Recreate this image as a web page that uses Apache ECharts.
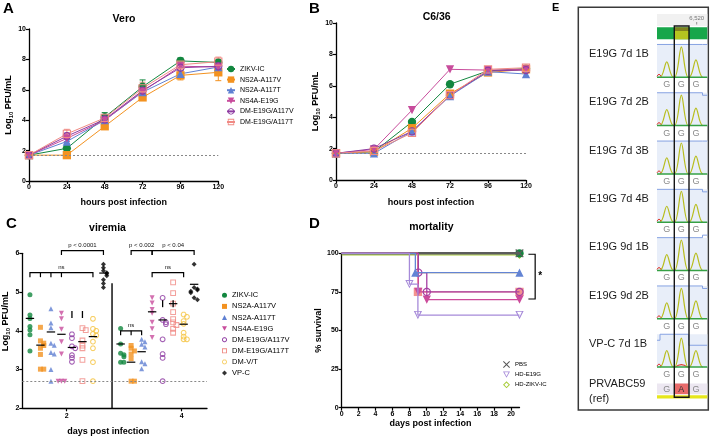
<!DOCTYPE html>
<html>
<head>
<meta charset="utf-8">
<title>ZIKV figure</title>
<script src="https://cdn.jsdelivr.net/npm/echarts@6/dist/echarts.min.js"></script>
<style>
html,body{margin:0;padding:0;background:#ffffff;}
#chart{width:712px;height:436px;}
</style>
</head>
<body>
<div id="chart"></div>
<script>
// ================= DATA =================
// Panels A / B : growth curves (log10 PFU/mL)
const hoursPostInfection = [0, 24, 48, 72, 96, 120];
const growthStrains = ['ZIKV-IC', 'NS2A-A117V', 'NS2A-A117T', 'NS4A-E19G', 'DM-E19G/A117V', 'DM-E19G/A117T'];
const veroZIKVIC = [1.7, 2.15, 4.2, 6.2, 7.9, 7.8];
const veroA117V  = [1.7, 1.7, 3.6, 5.5, 6.95, 7.15];
const veroA117T  = [1.7, 2.6, 4.0, 5.85, 7.05, 7.5];
const veroE19G   = [1.7, 2.8, 4.0, 5.9, 7.55, 7.5];
const veroDMV    = [1.7, 2.95, 4.05, 5.95, 7.45, 7.55];
const veroDMT    = [1.7, 3.1, 4.15, 6.1, 7.65, 7.85];
const veroSdZIKVIC = [0, 0.2, 0.3, 0.45, 0.2, 0.1];
const veroSdA117V  = [0, 0.05, 0.1, 0.2, 0.3, 0.55];
const veroSdA117T  = [0, 0.15, 0.25, 0.3, 0.2, 0.3];
const veroSdE19G   = [0, 0.2, 0.2, 0.3, 0.5, 0.3];
const veroSdDMV    = [0, 0.2, 0.2, 0.3, 0.3, 0.3];
const veroSdDMT    = [0, 0.3, 0.2, 0.4, 0.3, 0.3];
const c636ZIKVIC = [1.7, 1.8, 3.7, 6.1, 6.95, 7.1];
const c636A117V  = [1.7, 1.8, 3.3, 5.5, 6.85, 7.05];
const c636A117T  = [1.7, 1.7, 3.1, 5.35, 6.9, 6.75];
const c636E19G   = [1.7, 1.95, 4.45, 7.05, 7.0, 7.05];
const c636DMV    = [1.7, 2.0, 3.1, 5.4, 6.95, 7.0];
const c636DMT    = [1.7, 1.85, 3.0, 5.4, 7.05, 7.15];
const growthLOD = 1.7;

// Panel C : viremia (log10 PFU/mL) at day 2 and day 4
const viremiaDays = ['2', '4'];
const viremiaGroups = ['ZIKV-IC', 'NS2A-A117V', 'NS2A-A117T', 'NS4A-E19G', 'DM-E19G/A117V', 'DM-E19G/A117T', 'DM-V/T', 'VP-C'];
const vir2ZIKVIC = [4.93, 4.41, 4.32, 4.11, 4.02, 3.90, 3.48];
const vir2A117V  = [4.09, 3.74, 3.68, 3.62, 3.55, 3.39, 3.01, 3.01];
const vir2A117T  = [4.57, 4.20, 4.08, 3.68, 3.63, 3.44, 3.40, 3.00, 2.70];
const vir2E19G   = [4.45, 4.31, 4.04, 3.72, 3.40, 2.70, 2.70, 2.70];
const vir2DMV    = [3.91, 3.81, 3.60, 3.55, 3.37, 3.30, 3.20];
const vir2DMT    = [4.07, 4.02, 3.75, 3.62, 3.55, 3.25, 2.70];
const vir2DMVT   = [4.31, 4.05, 4.00, 3.92, 3.88, 3.72, 3.55, 3.19, 2.70];
const vir2VPC    = [5.72, 5.63, 5.55, 5.50, 5.47, 5.42, 5.32, 5.22, 5.12];
const vir4ZIKVIC = [4.06, 3.66, 3.42, 3.38, 3.33, 3.19, 3.19];
const vir4A117V  = [3.62, 3.55, 3.48, 3.40, 3.28, 2.70, 2.70];
const vir4A117T  = [3.78, 3.72, 3.65, 3.58, 3.20, 3.15, 3.02];
const vir4E19G   = [4.85, 4.72, 4.55, 4.45, 4.22, 4.05, 3.83];
const vir4DMV    = [4.85, 4.28, 4.22, 4.17, 3.78, 3.40, 3.30, 2.70];
const vir4DMT    = [5.25, 4.97, 4.70, 4.48, 4.30, 4.22, 4.15, 4.05, 3.95];
const vir4DMVT   = [4.42, 4.36, 4.25, 4.18, 3.95, 3.85, 3.78, 3.78];
const vir4VPC    = [5.72, 5.12, 5.08, 5.05, 5.02, 4.98, 4.85, 4.80];
const virMeanDay2 = [4.32, 3.63, 3.97, 3.91, 3.57, 3.72, 3.85, 5.49];
const virMeanDay4 = [3.66, 3.19, 3.46, 4.49, 4.28, 4.70, 4.17, 5.20];
const virSdTicks = [[0, 4, 4.42], [0, 5, 4.42], [1, 4, 4.70], [1, 5, 4.70]]; // [day index, group index, value]
const virLOD = 2.7;
const sigLabels = ['p < 0.0001', 'ns', 'p < 0.002', 'p < 0.04', 'ns', 'ns'];
const sigSpans  = [[0, 3, 7], [0, 0, 6], [1, 1, 3], [1, 3, 7], [1, 3, 6], [1, 0, 2]]; // [day, from group, to group]
const sigLevels = [6.07, 5.5, 6.07, 6.07, 5.5, 4.0];
const sigInner  = [[], [1, 2, 3], [], [], [], [1]];

// Panel D : survival (%)
const survNames  = ['HD-ZIKV-IC', 'ZIKV-IC', 'PBS', 'DM-V/T', 'DM-E19G/A117T', 'NS4A-E19G', 'DM-E19G/A117V', 'NS2A-A117T', 'HD-E19G'];
const survStart  = [99, 100, 100, 100, 100, 100, 100, 100, 100];
const survEvents = [[], [], [], [[9.0, 87.5]], [[9.0, 75]], [[9.05, 75], [10.05, 70]], [[9.05, 87.5], [10.05, 75]], [[8.7, 87.5]], [[8.0, 80], [9.0, 60]]];
const survEndDay = 21;
const survSigLabel = '*';

// Panel E : chromatograms
const seqSamples = ['E19G 7d 1B', 'E19G 7d 2B', 'E19G 7d 3B', 'E19G 7d 4B', 'E19G 9d 1B', 'E19G 9d 2B', 'VP-C 7d 1B'];
const seqCalls = ['GGG', 'GGG', 'GGG', 'GGG', 'GGG', 'GGG', 'GGG'];
const seqPeakHeights = [[0.32, 0.63, 0.36], [0.33, 0.63, 0.36], [0.33, 0.64, 0.37], [0.33, 0.64, 0.37], [0.33, 0.63, 0.36], [0.33, 0.63, 0.37], [0.34, 0.60, 0.34]];
const seqQualityStep = [0, 1, 0, 1, -1, 1, 2];
const seqRefName = 'PRVABC59';
const seqRefNote = '(ref)';
const seqRefCalls = 'GAG';
const seqPositionLabel = '6,520';

// ================= STYLE / LAYOUT =================
const FONT = '"Liberation Sans", Arial, Helvetica, sans-serif';
function ringPath(outer, inner) {
  const f = p => p[0].toFixed(2) + ',' + p[1].toFixed(2);
  return 'path://M' + outer.map(f).join(' L') + ' Z M' + inner.slice().reverse().map(f).join(' L') + ' Z';
}
function ringCircle(t) {
  const o = [], n = [];
  for (let k = 0; k < 32; k++) { const a = k / 32 * Math.PI * 2; o.push([5 + 5 * Math.cos(a), 5 + 5 * Math.sin(a)]); n.push([5 + (5 - t) * Math.cos(a), 5 + (5 - t) * Math.sin(a)]); }
  return ringPath(o, n);
}
function ringRect(t) { return ringPath([[0, 0], [10, 0], [10, 10], [0, 10]], [[t, t], [10 - t, t], [10 - t, 10 - t], [t, 10 - t]]); }
function ringDiamond(t) { const d = t * 1.414; return ringPath([[5, 0], [10, 5], [5, 10], [0, 5]], [[5, d], [10 - d, 5], [5, 10 - d], [d, 5]]); }
function ringDownTri(t) { return ringPath([[0, 0], [10, 0], [5, 9]], [[t * 1.7, t * 0.8], [10 - t * 1.7, t * 0.8], [5, 9 - t * 1.9]]); }
const X_PATH = 'path://M1,0 L5,4 L9,0 L10,1 L6,5 L10,9 L9,10 L5,6 L1,10 L0,9 L4,5 L0,1 Z';
const DOWN_TRI = 'path://M0,0 L10,0 L5,9 Z';

const strainColors = ['#12873f', '#f39220', '#5f80d2', '#c84c9c', '#8e3ca2', '#f08a84'];
const strainSymbols = ['circle', 'rect', 'triangle', 'triangle', ringCircle(1.35), ringRect(1.3)];
const strainRotate = [0, 0, 0, 180, 0, 0];
const groupColors = strainColors.concat(['#f5c444', '#000000']);
const groupSymbols = ['circle', 'rect', 'triangle', 'triangle', ringCircle(1.9), ringRect(1.8), ringCircle(1.9), 'diamond'];
const groupRotate = [0, 0, 0, 180, 0, 0, 0, 0];
const survColors = ['#a8cc3a', '#13853f', '#5c5c5c', '#f5c748', '#f3938f', '#cc4b9b', '#a53fa3', '#6384d4', '#a68ad9'];
const survSymbols = [ringDiamond(1.4), 'circle', X_PATH, 'none', 'rect', 'triangle', ringCircle(1.4), 'triangle', ringDownTri(1.2)];
const survRotate = [0, 0, 0, 0, 0, 180, 0, 0, 0];

const virPxPerDay = 57.5;
const virColStep = 10.5 / virPxPerDay;
const virCenters = [2, 3.577];
const swarmStep = 3.3 / virPxPerDay;
function colX(d, g) { return virCenters[d] + (g - 3.5) * virColStep; }

function axisBase(gi, extra) {
  return Object.assign({
    gridIndex: gi, type: 'value',
    axisLine: { show: true, onZero: false, lineStyle: { color: '#000', width: 1.3 } },
    axisTick: { show: true, inside: false, length: 3, lineStyle: { color: '#000', width: 1.2 } },
    axisLabel: { color: '#000', fontSize: 7, fontWeight: 'bold', fontFamily: FONT, margin: 3 },
    splitLine: { show: false },
    nameTextStyle: { color: '#000', fontSize: 9, fontWeight: 'bold', fontFamily: FONT }
  }, extra);
}
const logRich = {
  n: { fontSize: 9, fontWeight: 'bold', fontFamily: FONT, color: '#000', lineHeight: 11 },
  s: { fontSize: 6, fontWeight: 'bold', fontFamily: FONT, color: '#000', verticalAlign: 'bottom', lineHeight: 6 }
};
const logName = '{n|Log}{s|10}{n| PFU/mL}';

// ================= SERIES =================
const series = [];
const veroVals = [veroZIKVIC, veroA117V, veroA117T, veroE19G, veroDMV, veroDMT];
const veroSds = [veroSdZIKVIC, veroSdA117V, veroSdA117T, veroSdE19G, veroSdDMV, veroSdDMT];
const c636Vals = [c636ZIKVIC, c636A117V, c636A117T, c636E19G, c636DMV, c636DMT];

function growthSeries(gi, vals, si, withLod) {
  const s = {
    type: 'line', name: growthStrains[si], xAxisIndex: gi, yAxisIndex: gi,
    data: hoursPostInfection.map((h, k) => [h, vals[k]]),
    symbol: strainSymbols[si], symbolRotate: strainRotate[si], symbolSize: 8.3,
    lineStyle: { width: 1, color: strainColors[si] },
    itemStyle: { color: strainColors[si], borderWidth: 0 },
    clip: false, z: 3
  };
  if (withLod) {
    s.markLine = { silent: true, symbol: ['none', 'none'], label: { show: false },
      lineStyle: { type: [2, 2], color: '#888', width: 1 }, data: [{ yAxis: growthLOD }] };
  }
  return s;
}
// error bars (panel A)
const errData = [];
veroVals.forEach((vals, si) => vals.forEach((v, k) => { if (veroSds[si][k] > 0) errData.push([hoursPostInfection[k], v - veroSds[si][k], v + veroSds[si][k], si]); }));
series.push({
  type: 'custom', name: 'sdA', xAxisIndex: 0, yAxisIndex: 0, data: errData, z: 2, silent: true,
  renderItem: function (params, api) {
    const x = api.value(0), lo = api.value(1), hi = api.value(2), c = strainColors[api.value(3)];
    const p1 = api.coord([x, hi]), p2 = api.coord([x, lo]);
    return { type: 'group', children: [
      { type: 'line', shape: { x1: p1[0], y1: p1[1], x2: p2[0], y2: p2[1] }, style: { stroke: c, lineWidth: 1 } },
      { type: 'line', shape: { x1: p1[0] - 3, y1: p1[1], x2: p1[0] + 3, y2: p1[1] }, style: { stroke: c, lineWidth: 1 } },
      { type: 'line', shape: { x1: p2[0] - 3, y1: p2[1], x2: p2[0] + 3, y2: p2[1] }, style: { stroke: c, lineWidth: 1 } }
    ] };
  }
});
veroVals.forEach((v, si) => series.push(growthSeries(0, v, si, si === 0)));
c636Vals.forEach((v, si) => series.push(growthSeries(1, v, si, si === 0)));

// Panel C scatter
const vir2 = [vir2ZIKVIC, vir2A117V, vir2A117T, vir2E19G, vir2DMV, vir2DMT, vir2DMVT, vir2VPC];
const vir4 = [vir4ZIKVIC, vir4A117V, vir4A117T, vir4E19G, vir4DMV, vir4DMT, vir4DMVT, vir4VPC];
function swarm(values, center) {
  const placed = [];
  return values.map(v => {
    const k = placed.filter(p => Math.abs(p - v) < 0.07).length;
    placed.push(v);
    const off = k === 0 ? 0 : (k % 2 ? (k + 1) / 2 : -k / 2);
    return [center + off * swarmStep, v];
  });
}
viremiaGroups.forEach((name, g) => {
  const s = {
    type: 'scatter', name: name, xAxisIndex: 2, yAxisIndex: 2,
    data: swarm(vir2[g], colX(0, g)).concat(swarm(vir4[g], colX(1, g))),
    symbol: groupSymbols[g], symbolRotate: groupRotate[g], symbolSize: g >= 4 && g <= 6 ? 5.8 : 5,
    itemStyle: { color: groupColors[g], borderWidth: 0 },
    clip: false, z: 3
  };
  if (g === 0) {
    s.markLine = { silent: true, symbol: ['none', 'none'], label: { show: false },
      lineStyle: { type: [2, 2], color: '#888', width: 1 }, data: [{ yAxis: virLOD }] };
  }
  series.push(s);
});
// Panel C annotations: means, ticks, brackets, separator
const meanData = [];
virMeanDay2.forEach((m, g) => meanData.push([colX(0, g), m]));
virMeanDay4.forEach((m, g) => meanData.push([colX(1, g), m]));
series.push({
  type: 'custom', name: 'meansC', xAxisIndex: 2, yAxisIndex: 2, data: meanData, z: 4, silent: true,
  renderItem: function (params, api) {
    const p = api.coord([api.value(0), api.value(1)]);
    return { type: 'line', shape: { x1: p[0] - 4.2, y1: p[1], x2: p[0] + 4.2, y2: p[1] }, style: { stroke: '#000', lineWidth: 1.2 } };
  }
});
series.push({
  type: 'custom', name: 'ticksC', xAxisIndex: 2, yAxisIndex: 2, data: virSdTicks.map(t => [colX(t[0], t[1]), t[2]]), z: 4, silent: true,
  renderItem: function (params, api) {
    const p = api.coord([api.value(0), api.value(1)]);
    return { type: 'line', shape: { x1: p[0], y1: p[1] - 3.5, x2: p[0], y2: p[1] + 3.5 }, style: { stroke: '#000', lineWidth: 1.3 } };
  }
});
series.push({
  type: 'custom', name: 'bracketsC', xAxisIndex: 2, yAxisIndex: 2, data: sigLabels.map((l, i) => [colX(sigSpans[i][0], sigSpans[i][1]), sigLevels[i]]), z: 4, silent: true,
  renderItem: function (params, api) {
    const i = params.dataIndex;
    const d = sigSpans[i][0], lvl = sigLevels[i];
    const a = api.coord([colX(d, sigSpans[i][1]), lvl]);
    const b = api.coord([colX(d, sigSpans[i][2]), lvl]);
    const leg = 4.5;
    const ch = [{ type: 'polyline', shape: { points: [[a[0], a[1] + leg], [a[0], a[1]], [b[0], b[1]], [b[0], b[1] + leg]] }, style: { stroke: '#000', lineWidth: 1.2, fill: null } }];
    sigInner[i].forEach(g => { const q = api.coord([colX(d, g), lvl]); ch.push({ type: 'line', shape: { x1: q[0], y1: q[1], x2: q[0], y2: q[1] + leg }, style: { stroke: '#000', lineWidth: 1.2 } }); });
    ch.push({ type: 'text', style: { text: sigLabels[i], x: (a[0] + b[0]) / 2, y: a[1] - 2.5, fill: '#111', font: '6px ' + FONT, textAlign: 'center', textVerticalAlign: 'bottom' } });
    return { type: 'group', children: ch };
  }
});
series.push({
  type: 'custom', name: 'sepC', xAxisIndex: 2, yAxisIndex: 2, data: [[(colX(0, 7) + colX(1, 0)) / 2, 5.23]], z: 4, silent: true,
  renderItem: function (params, api) {
    const p = api.coord([api.value(0), api.value(1)]);
    const q = api.coord([api.value(0), 2]);
    return { type: 'line', shape: { x1: p[0], y1: p[1], x2: q[0], y2: q[1] }, style: { stroke: '#000', lineWidth: 1.4 } };
  }
});

// Panel D survival
survNames.forEach((name, i) => {
  const pts = [{ value: [0, survStart[i]], symbol: 'none' }];
  let cur = survStart[i];
  survEvents[i].forEach(ev => {
    pts.push({ value: [ev[0], cur], symbol: 'none' });
    pts.push({ value: [ev[0], ev[1]] });
    cur = ev[1];
  });
  pts.push({ value: [survEndDay, cur] });
  series.push({
    type: 'line', name: name, xAxisIndex: 3, yAxisIndex: 3, data: pts,
    symbol: survSymbols[i], symbolRotate: survRotate[i], symbolSize: i === 2 ? 8.5 : 8.3, showAllSymbol: true,
    lineStyle: { width: i === 2 ? 2.6 : 1.3, color: survColors[i] },
    itemStyle: { color: survColors[i], borderWidth: 0 },
    clip: false, z: 3 + i * 0.01
  });
});
series.push({
  type: 'custom', name: 'sigD', xAxisIndex: 3, yAxisIndex: 3, data: [[22.85, 100]], z: 4, silent: true,
  renderItem: function (params, api) {
    const t = api.coord([22.85, 99.4]), b = api.coord([22.85, 70.4]);
    const w = api.size([0.8, 0])[0];
    return { type: 'group', children: [
      { type: 'polyline', shape: { points: [[t[0] - w, t[1]], [t[0], t[1]], [b[0], b[1]], [b[0] - w, b[1]]] }, style: { stroke: '#000', lineWidth: 1.2, fill: null } },
      { type: 'text', style: { text: survSigLabel, x: t[0] + 5, y: (t[1] + b[1]) / 2, fill: '#000', font: 'bold 10px ' + FONT, textAlign: 'center', textVerticalAlign: 'middle' } }
    ] };
  }
});

// Panel E chromatograms
const seqRows = seqSamples.map((s, i) => [0, i]).concat([[0, 6.45]]);
series.push({
  type: 'custom', name: 'seq', xAxisIndex: 4, yAxisIndex: 4, data: seqRows, z: 3, silent: true,
  renderItem: function (params, api) {
    const i = params.dataIndex;
    const rowH = api.size([0, 1])[1];
    const colW = api.size([1, 0])[0];
    const L = api.coord([-0.67, 0])[0], R = api.coord([2.78, 0])[0];
    const ch = [];
    if (i < seqSamples.length) {
      const by = api.coord([0, i])[1];
      const top = by - 0.68 * rowH;
      ch.push({ type: 'rect', shape: { x: L, y: top, width: R - L, height: by - top }, style: { fill: '#e8eef9' } });
      const q = seqQualityStep[i];
      const sx = api.coord([q === 2 ? 1.5 : 2.45, i])[0];
      const dy = q === 2 ? 11 : q * 2.5;
      ch.push({ type: 'polyline', shape: { points: [[L, top + (q === 2 ? 6 : 0)], [L + 3, top + (q === 2 ? 6 : 0)], [L + 3, top], [sx, top], [sx, top + dy], [R, top + dy]] }, style: { stroke: '#86a2e2', lineWidth: 1, fill: null } });
      seqPeakHeights[i].forEach((h, k) => {
        const cx = api.coord([k, i])[0];
        const w = colW * 0.47, hp = h * rowH;
        ch.push({ type: 'path', shape: { pathData: 'M' + (cx - w) + ',' + by + ' C' + (cx - w * 0.45) + ',' + by + ' ' + (cx - w * 0.3) + ',' + (by - hp) + ' ' + cx + ',' + (by - hp) + ' C' + (cx + w * 0.3) + ',' + (by - hp) + ' ' + (cx + w * 0.45) + ',' + by + ' ' + (cx + w) + ',' + by }, style: { stroke: '#b7bd1d', lineWidth: 1.2, fill: null } });
      });
      ch.push({ type: 'path', shape: { pathData: 'M' + L + ',' + (by - 1) + ' Q' + (L + 2) + ',' + (by - 5) + ' ' + (L + 4) + ',' + (by - 1) }, style: { stroke: '#e03a2f', lineWidth: 1, fill: null } });
      if (q === 2) {
        const cx = api.coord([1, i])[0];
        ch.push({ type: 'path', shape: { pathData: 'M' + (cx - 6) + ',' + by + ' Q' + cx + ',' + (by - 5) + ' ' + (cx + 6) + ',' + by }, style: { stroke: '#e03a2f', lineWidth: 1.2, fill: null } });
      }
      ch.push({ type: 'line', shape: { x1: L, y1: by, x2: R, y2: by }, style: { stroke: '#35a044', lineWidth: 1.5 } });
      seqCalls[i].split('').forEach((c, k) => {
        const cx = api.coord([k, i])[0];
        ch.push({ type: 'text', style: { text: c, x: cx, y: by + 7.5, fill: '#8a8a8a', font: '9px ' + FONT, textAlign: 'center', textVerticalAlign: 'middle' } });
      });
      ch.push({ type: 'text', style: { text: seqSamples[i], x: L - 68, y: by - 0.48 * rowH, fill: '#1c1c1c', font: '11px ' + FONT, textAlign: 'left', textVerticalAlign: 'middle' } });
    } else {
      const cy = api.coord([0, 6.45])[1];
      const bandH = 0.22 * rowH;
      ch.push({ type: 'rect', shape: { x: L, y: cy - bandH / 2, width: R - L, height: bandH }, style: { fill: '#ece7f1' } });
      const a = api.coord([0.5, 0])[0], b = api.coord([1.5, 0])[0];
      ch.push({ type: 'rect', shape: { x: a, y: cy - bandH / 2, width: b - a, height: bandH }, style: { fill: '#e86b6b' } });
      ch.push({ type: 'rect', shape: { x: L, y: cy + bandH / 2 + 1, width: R - L, height: 3.3 }, style: { fill: '#e6e61c' } });
      seqRefCalls.split('').forEach((c, k) => {
        const cx = api.coord([k, 0])[0];
        ch.push({ type: 'text', style: { text: c, x: cx, y: cy + 0.5, fill: k === 1 ? '#333' : '#8a8a8a', font: '9px ' + FONT, textAlign: 'center', textVerticalAlign: 'middle' } });
      });
      ch.push({ type: 'text', style: { text: seqRefName, x: L - 68, y: cy - 5, fill: '#1c1c1c', font: '11px ' + FONT, textAlign: 'left', textVerticalAlign: 'middle' } });
      ch.push({ type: 'text', style: { text: seqRefNote, x: L - 68, y: cy + 10, fill: '#1c1c1c', font: '11px ' + FONT, textAlign: 'left', textVerticalAlign: 'middle' } });
    }
    return { type: 'group', children: ch };
  }
});

// ================= OPTION =================
function panelText(t, x, y, size, align) {
  return { type: 'text', z: 100, style: { text: t, x: x, y: y, fill: '#000', font: 'bold ' + size + 'px ' + FONT, textAlign: align || 'left', textVerticalAlign: align ? 'middle' : 'top' } };
}
const option = {
  animation: false,
  backgroundColor: '#ffffff',
  grid: [
    { left: 29, top: 29, width: 189.3, height: 152, outerBoundsMode: 'none', containLabel: false },
    { left: 336, top: 23, width: 190, height: 157, outerBoundsMode: 'none', containLabel: false },
    { left: 22.3, top: 253.3, width: 184.7, height: 155, outerBoundsMode: 'none', containLabel: false },
    { left: 341.7, top: 253.3, width: 177.8, height: 154.4, outerBoundsMode: 'none', containLabel: false },
    { left: 657, top: 29, width: 50.3, height: 386.4, outerBoundsMode: 'none', containLabel: false }
  ],
  xAxis: [
    axisBase(0, { min: 0, max: 120, interval: 24, name: 'hours post infection', nameLocation: 'middle', nameGap: 17 }),
    axisBase(1, { min: 0, max: 120, interval: 24, name: 'hours post infection', nameLocation: 'middle', nameGap: 18 }),
    axisBase(2, { min: 1.228, max: 4.44, name: 'days post infection', nameLocation: 'middle', nameGap: 19,
      axisTick: { show: true, length: 3, lineStyle: { color: '#000', width: 1.2 }, customValues: [2, 4] },
      axisLabel: { color: '#000', fontSize: 7, fontWeight: 'bold', fontFamily: FONT, margin: 4, customValues: [2, 4], formatter: v => viremiaDays[Math.round(v) === 2 ? 0 : 1] },
      nameTextStyle: { color: '#000', fontSize: 9, fontWeight: 'bold', fontFamily: FONT, padding: [0, 13, 0, 0] } }),
    axisBase(3, { min: 0, max: 21, name: 'days post infection', nameLocation: 'middle', nameGap: 9.5,
      axisTick: { show: true, length: 3, lineStyle: { color: '#000', width: 1.2 }, customValues: [0, 2, 4, 6, 8, 10, 12, 14, 16, 18, 20] },
      axisLabel: { color: '#000', fontSize: 7, fontWeight: 'bold', fontFamily: FONT, margin: 3, customValues: [0, 2, 4, 6, 8, 10, 12, 14, 16, 18, 20] } }),
    { gridIndex: 4, type: 'value', min: -0.67, max: 2.78, show: false }
  ],
  yAxis: [
    axisBase(0, { min: 0, max: 10, interval: 2, name: logName, nameLocation: 'middle', nameGap: 15,
      nameTextStyle: { rich: logRich } }),
    axisBase(1, { min: 0, max: 10, interval: 2, name: logName, nameLocation: 'middle', nameGap: 14,
      nameTextStyle: { rich: logRich } }),
    axisBase(2, { min: 2, max: 6, interval: 1, name: logName, nameLocation: 'middle', nameGap: 9,
      nameTextStyle: { rich: logRich, padding: [0, 0, 0, 19] } }),
    axisBase(3, { min: 0, max: 100, interval: 25, name: '% survival', nameLocation: 'middle', nameGap: 16 }),
    { gridIndex: 4, type: 'value', min: -1, max: 7, inverse: true, show: false }
  ],
  legend: [
    { orient: 'vertical', left: 226, top: 65.5, itemWidth: 8, itemHeight: 8, itemGap: 3.6, padding: 0,
      textStyle: { fontSize: 7, fontFamily: FONT, color: '#000' },
      data: growthStrains.slice(), selectedMode: false },
    { orient: 'vertical', left: 222, top: 291.3, itemWidth: 5, itemHeight: 5, itemGap: 3.1, padding: 0,
      textStyle: { fontSize: 7.5, fontFamily: FONT, color: '#000' }, selectedMode: false,
      data: viremiaGroups.map((n, g) => ({ name: n, icon: g === 3 ? DOWN_TRI : groupSymbols[g], itemStyle: { color: groupColors[g] } })) },
    { orient: 'vertical', left: 503, top: 361, itemWidth: 7, itemHeight: 7, itemGap: 3.5, padding: 0,
      textStyle: { fontSize: 6, fontFamily: FONT, color: '#000' }, selectedMode: false,
      data: [
        { name: 'PBS', icon: X_PATH, itemStyle: { color: '#555' } },
        { name: 'HD-E19G', icon: ringDownTri(1.2), itemStyle: { color: '#a68ad9' } },
        { name: 'HD-ZIKV-IC', icon: ringDiamond(1.4), itemStyle: { color: '#a8cc3a' } }
      ] }
  ],
  graphic: [
    panelText('A', 3, 1, 15), panelText('B', 309, 1, 15), panelText('C', 6, 216, 15), panelText('D', 309, 216, 15), panelText('E', 552, 2, 11),
    panelText('Vero', 124, 19.5, 10.5, 'center'), panelText('C6/36', 436.7, 17, 10.5, 'center'),
    panelText('viremia', 107.5, 228.5, 10.5, 'center'), panelText('mortality', 431.3, 227.5, 10.5, 'center'),
    { type: 'rect', z: 1, shape: { x: 578.3, y: 7.3, width: 130, height: 402.7 }, style: { stroke: '#3a3a3a', lineWidth: 1.5, fill: null } },
    { type: 'rect', z: 1, shape: { x: 657, y: 14, width: 50.3, height: 12 }, style: { fill: '#f1f1f1' } },
    { type: 'text', z: 2, style: { text: seqPositionLabel, x: 696.7, y: 18.5, fill: '#777', font: '6px ' + FONT, textAlign: 'center', textVerticalAlign: 'middle' } },
    { type: 'line', z: 2, shape: { x1: 696.7, y1: 22, x2: 696.7, y2: 24.5 }, style: { stroke: '#777', lineWidth: 0.8 } },
    { type: 'rect', z: 2, shape: { x: 657, y: 27.3, width: 50.3, height: 12 }, style: { fill: '#17a64a' } },
    { type: 'rect', z: 3, shape: { x: 674.3, y: 27.3, width: 14.7, height: 3.7 }, style: { fill: '#80801e' } },
    { type: 'rect', z: 3, shape: { x: 674.3, y: 31, width: 14.7, height: 8.3 }, style: { fill: '#b4c420' } },
    { type: 'rect', z: 100, shape: { x: 674.3, y: 26, width: 14.7, height: 371.3 }, style: { stroke: '#151515', lineWidth: 1.4, fill: null } }
  ],
  series: series
};
const chart = echarts.init(document.getElementById('chart'), null, { renderer: 'canvas', width: 712, height: 436 });
chart.setOption(option);
</script>
</body>
</html>
